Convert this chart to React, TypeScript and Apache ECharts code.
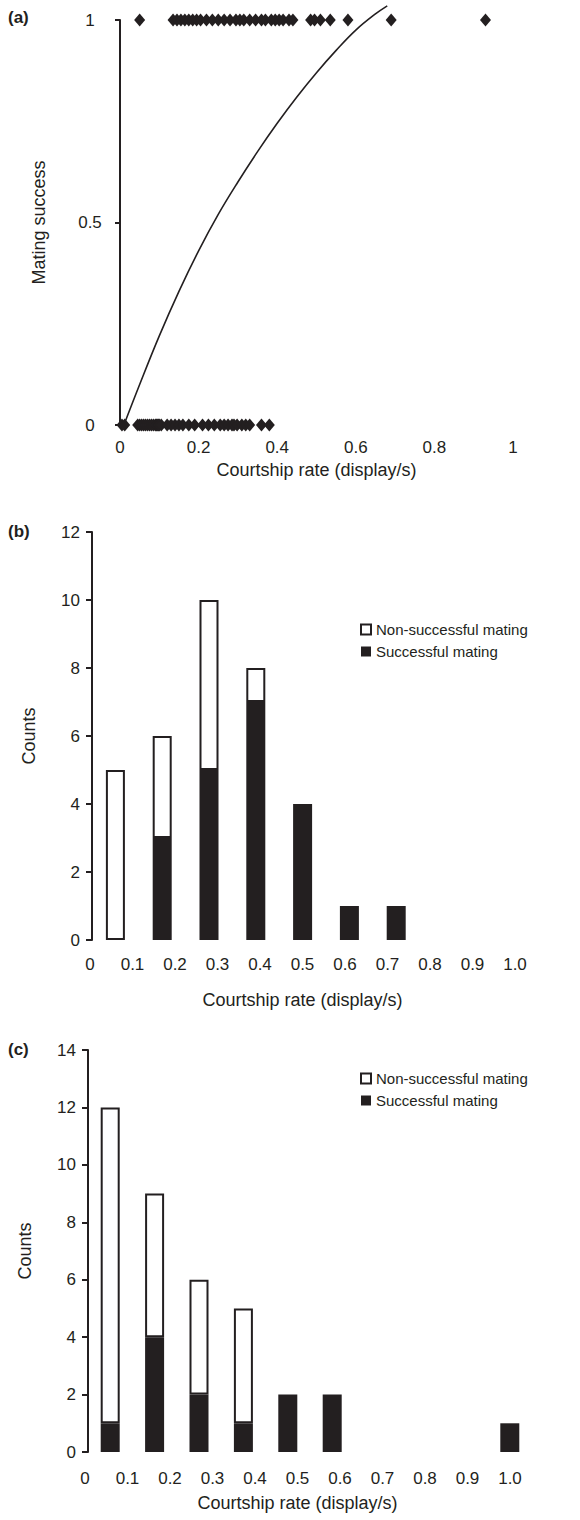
import React, { useEffect, useRef } from "react";
import * as echarts from "echarts";

// ---------- Data ----------
// Panel (a): individual courtship rates (display/s) for successful (1) and non-successful (0) males
const successRates = [
  0.05,
  0.135, 0.145, 0.155, 0.165, 0.175, 0.185, 0.195,
  0.205, 0.22, 0.235, 0.25, 0.265, 0.28, 0.295,
  0.305, 0.315, 0.33, 0.345, 0.36, 0.37, 0.385, 0.395,
  0.405, 0.415, 0.43, 0.44, 0.485, 0.495,
  0.51, 0.535, 0.58,
  0.69,
  0.93,
];
const failRates = [
  0.005, 0.012, 0.045, 0.05, 0.055, 0.06, 0.065, 0.07, 0.075, 0.08, 0.085, 0.09, 0.093, 0.096, 0.098, 0.1,
  0.105, 0.12, 0.13, 0.14, 0.15, 0.16, 0.175, 0.19,
  0.21, 0.225, 0.24, 0.255, 0.265, 0.275, 0.285, 0.29, 0.298,
  0.31, 0.32, 0.33, 0.36, 0.38,
];
// fitted curve
const curveX = [0.01, 0.05, 0.1, 0.15, 0.2, 0.25, 0.3, 0.35, 0.4, 0.45, 0.5, 0.55, 0.6, 0.65, 0.68];
const curveY = [0.0, 0.1, 0.22, 0.33, 0.43, 0.52, 0.6, 0.675, 0.745, 0.81, 0.87, 0.925, 0.975, 1.015, 1.035];

// Panels (b) and (c): histogram bins
const bins = ["0-0.1", "0.1-0.2", "0.2-0.3", "0.3-0.4", "0.4-0.5", "0.5-0.6", "0.6-0.7", "0.7-0.8", "0.8-0.9", "0.9-1.0"];
const successB = [0, 3, 5, 7, 4, 1, 1, 0, 0, 0];
const nonSuccessB = [5, 3, 5, 1, 0, 0, 0, 0, 0, 0];
const successC = [1, 4, 2, 1, 2, 2, 0, 0, 0, 1];
const nonSuccessC = [11, 5, 4, 4, 0, 0, 0, 0, 0, 0];

const INK = "#231f20";
const FONT = "'Liberation Sans', Arial, sans-serif";

const nz = (arr: number[]) => arr.map((v) => (v === 0 ? "-" : v));
const fmtX = (v: number) => (v === 0 ? "0" : v.toFixed(1));
const fmtA = (v: number) => (v === 0 ? "0" : v === 1 ? "1" : String(Math.round(v * 10) / 10));

export default function App() {
  const ref = useRef<HTMLDivElement>(null);
  useEffect(() => {
    document.body.style.margin = "0";
    if (!ref.current) return;
    const chart = echarts.init(ref.current, undefined, { renderer: "svg" });

    const grids = [
      { left: 120, top: 20, width: 393, height: 405 }, // 0 panel a
      { left: 92, top: 532, width: 468, height: 408 }, // 1 panel b bars
      { left: 90, top: 532, width: 425, height: 408 }, // 2 panel b labels
      { left: 88, top: 1050, width: 444, height: 402 }, // 3 panel c bars
      { left: 85, top: 1050, width: 425, height: 402 }, // 4 panel c labels
    ];

    const axisText = { color: INK, fontFamily: FONT, fontSize: 17 };
    const nameText = { color: INK, fontFamily: FONT, fontSize: 18 };

    const barYAxis = (grid: number, max: number, yTitleGap: number) => ({
      type: "value",
      gridIndex: grid,
      min: 0,
      max,
      interval: 2,
      axisLine: { show: true, lineStyle: { color: INK, width: 2 } },
      axisTick: { show: true, length: 6, lineStyle: { color: INK, width: 2 } },
      axisLabel: { ...axisText, margin: 12 },
      splitLine: { show: false },
      name: "Counts",
      nameLocation: "middle",
      nameGap: yTitleGap,
      nameTextStyle: nameText,
    });
    const hiddenY = (grid: number, max: number) => ({
      type: "value",
      gridIndex: grid,
      min: 0,
      max,
      show: false,
    });
    const barXAxis = (grid: number) => ({
      type: "category",
      gridIndex: grid,
      data: bins,
      axisLine: { show: false },
      axisTick: { show: false },
      axisLabel: { show: false },
    });
    const labelXAxis = (grid: number, margin: number, gap: number) => ({
      type: "value",
      gridIndex: grid,
      min: 0,
      max: 1,
      interval: 0.1,
      axisLine: { show: false },
      axisTick: { show: false },
      splitLine: { show: false },
      axisLabel: { ...axisText, margin, formatter: fmtX, showMaxLabel: true, showMinLabel: true },
      name: "Courtship rate (display/s)",
      nameLocation: "middle",
      nameGap: gap,
      nameTextStyle: nameText,
    });

    const white = { color: "#ffffff", borderColor: INK, borderWidth: 2 };
    const black = { color: INK };
    const legendBase = {
      orient: "vertical",
      left: 355,
      itemWidth: 10,
      itemHeight: 10,
      itemGap: 7,
      icon: "rect",
      data: ["Non-successful mating", "Successful mating"],
      textStyle: { color: INK, fontFamily: FONT, fontSize: 15 },
      selectedMode: false,
    };

    chart.setOption({
      animation: false,
      textStyle: { fontFamily: FONT },
      grid: grids.map((g) => ({ ...g, containLabel: false })),
      xAxis: [
        {
          type: "value",
          gridIndex: 0,
          min: 0,
          max: 1,
          interval: 0.2,
          axisLine: { show: false },
          axisTick: { show: false },
          splitLine: { show: false },
          axisLabel: { ...axisText, margin: 14, formatter: fmtA },
          name: "Courtship rate (display/s)",
          nameLocation: "middle",
          nameGap: 36,
          nameTextStyle: nameText,
        },
        barXAxis(1),
        labelXAxis(2, 16, 51),
        barXAxis(3),
        labelXAxis(4, 18, 42),
      ],
      yAxis: [
        {
          type: "value",
          gridIndex: 0,
          min: 0,
          max: 1,
          interval: 0.5,
          axisLine: { show: true, lineStyle: { color: INK, width: 2 } },
          axisTick: { show: true, length: 5, lineStyle: { color: INK, width: 2 } },
          splitLine: { show: false },
          axisLabel: { ...axisText, margin: 30, align: "center", formatter: fmtA },
          name: "Mating success",
          nameLocation: "middle",
          nameGap: 72,
          nameTextStyle: nameText,
        },
        barYAxis(1, 12, 54),
        hiddenY(2, 12),
        barYAxis(3, 14, 54),
        hiddenY(4, 14),
      ],
      legend: [
        { ...legendBase, top: 617 },
        { ...legendBase, top: 1066 },
      ],
      graphic: [
        { type: "text", left: 8, top: 9, style: { text: "(a)", font: `bold 17px ${FONT}`, fill: INK } },
        { type: "text", left: 8, top: 523, style: { text: "(b)", font: `bold 17px ${FONT}`, fill: INK } },
        { type: "text", left: 8, top: 1041, style: { text: "(c)", font: `bold 17px ${FONT}`, fill: INK } },
      ],
      series: [
        {
          type: "line",
          xAxisIndex: 0,
          yAxisIndex: 0,
          data: curveX.map((x, i) => [x, curveY[i]]),
          smooth: 0.4,
          showSymbol: false,
          symbol: "none",
          clip: false,
          lineStyle: { color: INK, width: 1.6 },
          z: 1,
        },
        {
          type: "scatter",
          xAxisIndex: 0,
          yAxisIndex: 0,
          data: successRates.map((x) => [x, 1]),
          symbol: "diamond",
          symbolSize: [11, 13],
          itemStyle: { color: INK, opacity: 1 },
          clip: false,
          z: 3,
        },
        {
          type: "scatter",
          xAxisIndex: 0,
          yAxisIndex: 0,
          data: failRates.map((x) => [x, 0]),
          symbol: "diamond",
          symbolSize: [11, 13],
          itemStyle: { color: INK, opacity: 1 },
          clip: false,
          z: 3,
        },
        {
          name: "Successful mating",
          type: "bar",
          xAxisIndex: 1,
          yAxisIndex: 1,
          stack: "b",
          barWidth: 19,
          data: nz(successB),
          itemStyle: black,
        },
        {
          name: "Non-successful mating",
          type: "bar",
          xAxisIndex: 1,
          yAxisIndex: 1,
          stack: "b",
          barWidth: 19,
          data: nz(nonSuccessB),
          itemStyle: white,
        },
        {
          name: "Successful mating",
          type: "bar",
          xAxisIndex: 3,
          yAxisIndex: 3,
          stack: "c",
          barWidth: 19,
          data: nz(successC),
          itemStyle: black,
        },
        {
          name: "Non-successful mating",
          type: "bar",
          xAxisIndex: 3,
          yAxisIndex: 3,
          stack: "c",
          barWidth: 19,
          data: nz(nonSuccessC),
          itemStyle: white,
        },
      ],
    });
    return () => chart.dispose();
  }, []);
  return <div ref={ref} style={{ width: 580, height: 1520 }} />;
}
